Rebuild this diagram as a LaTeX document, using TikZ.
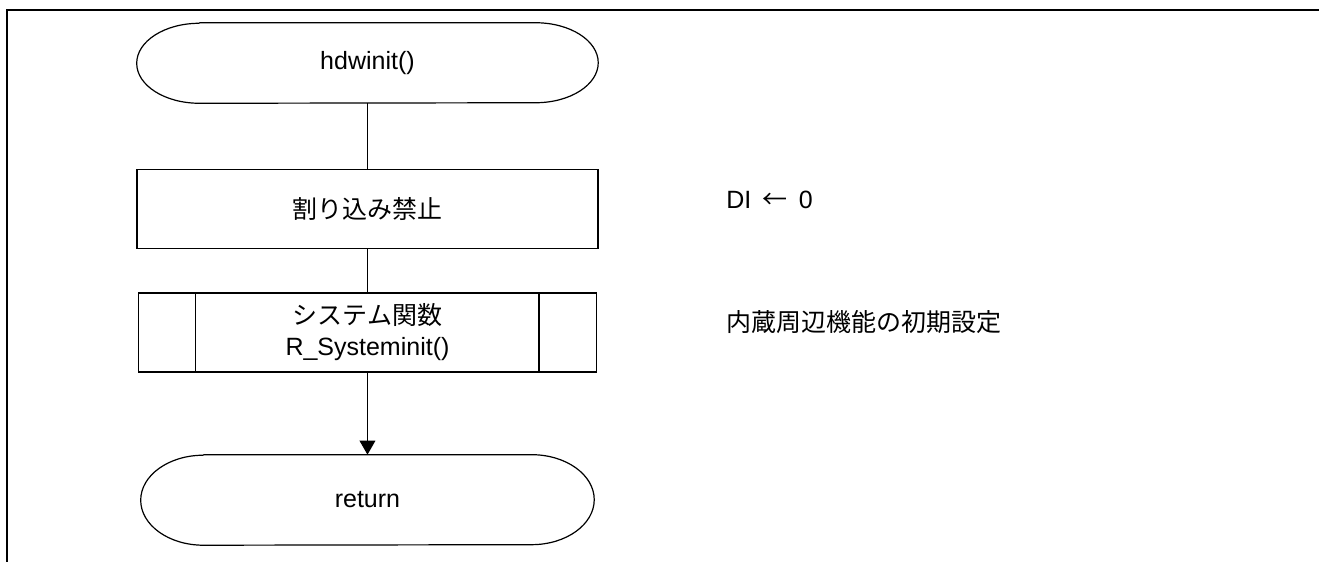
\documentclass[tikz,border=0pt]{standalone}
\usepackage{fontspec}
\setmainfont{Liberation Sans}
\newfontfamily\jp{Noto Sans CJK JP}
\usetikzlibrary{arrows.meta, positioning}

\begin{document}
\begin{tikzpicture}[
        every node/.style={font=\fontsize{18.75pt}{23.25pt}\selectfont},
        term/.style={rectangle, align=center, inner sep=0pt, minimum width=345.75pt, minimum height=60pt},
        proc/.style={rectangle, draw, line width=0.9pt, align=center, inner sep=0pt, minimum width=345.75pt, minimum height=59.25pt},
        sub/.style={proc, minimum width=343.5pt},
        note/.style={anchor=west, inner sep=0pt},
        line/.style={line width=0.9pt},
        arr/.style={-{Triangle[width=11.8pt, length=10.5pt]}, line width=0.9pt},
        frame/.style={line width=1.6pt}
    ]
        \useasboundingbox (0,0) rectangle (989.25pt,-421.5pt);
        \draw[frame] (989.25pt,-7.5pt) -- (5.25pt,-7.5pt) -- (5.25pt,-421.5pt);

        \node[term] (start) at (275.6pt,-47.25pt) {hdwinit()};
        \node[proc, below=49.5pt of start] (dis) {\jp 割り込み禁止};
        \node[sub, below=32.25pt of dis] (sys) {{\jp システム関数}\\R\_Systeminit()};
        \node[term, below=61.5pt of sys, minimum width=339.75pt, minimum height=67.5pt] (ret) {return};

        \draw[line] ([xshift=43.5pt]sys.north west) -- ([xshift=43.5pt]sys.south west);
        \draw[line] ([xshift=-43.5pt]sys.north east) -- ([xshift=-43.5pt]sys.south east);

        % terminal outlines
        \foreach \t/\r in {start/30pt, ret/33.75pt} {
            \draw[line] ([xshift=47pt]\t.north west) -- ([xshift=-47pt]\t.north east)
                arc[start angle=90, end angle=-90, x radius=47pt, y radius=\r]
                -- ([xshift=47pt]\t.south west)
                arc[start angle=270, end angle=90, x radius=47pt, y radius=\r];
        }

        \draw[line] (start) -- (dis);
        \draw[line] (dis) -- (sys);
        \draw[arr] (sys) -- (ret);

        \node[note] (dinote) at (544.5pt,-150pt) {DI\hspace{0.45em}{\jp ←}\hspace{0.45em}0};
        \node[note] (sysnote) at (544.5pt,-241.5pt) {\jp 内蔵周辺機能の初期設定};
    \end{tikzpicture}
\end{document}
